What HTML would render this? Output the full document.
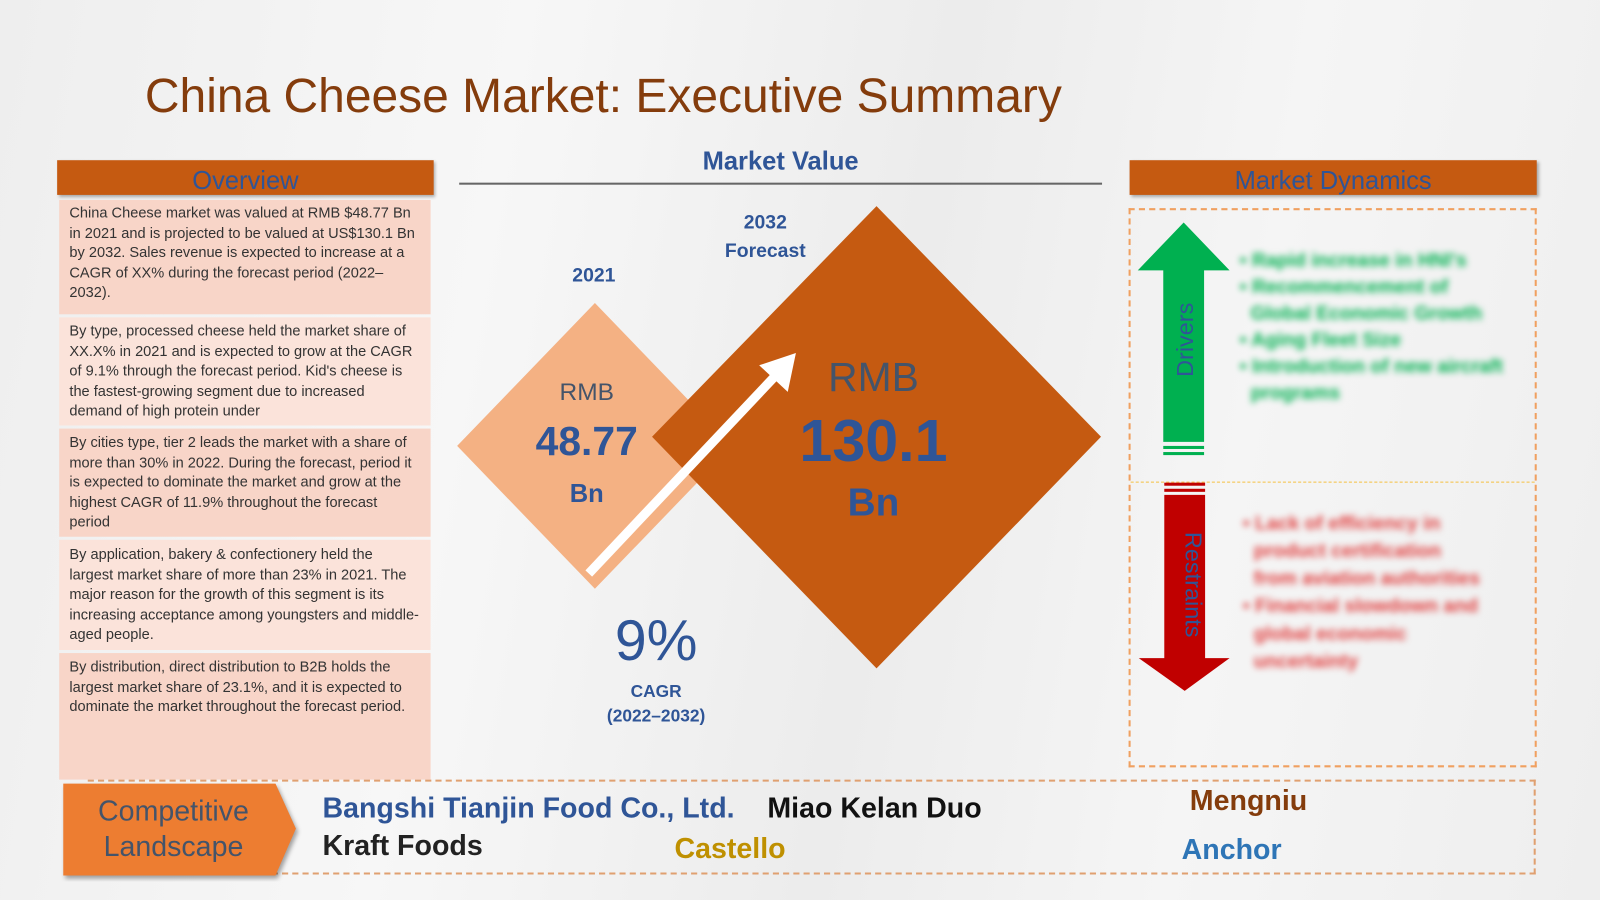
<!DOCTYPE html>
<html><head><meta charset="utf-8"><style>
html,body{margin:0;padding:0;width:1600px;height:900px;overflow:hidden;background:#f2f2f2}
#s{position:absolute;left:0;top:0;width:1568px;height:882px;transform:scale(1.020408);transform-origin:0 0;font-family:"Liberation Sans",sans-serif;
background:linear-gradient(100deg,#eeeeee 0%,#f7f7f7 30%,#ececec 55%,#f5f5f5 75%,#eeeeee 100%)}
.a{position:absolute}
.ov{position:absolute;left:58px;width:364px;background:#f8d5c8;color:#333;font-size:14.3px;line-height:19.6px;padding:0 10px;box-sizing:border-box}
.bar{background:#c55a11;color:#2f5597;font-size:25px;text-align:center;box-shadow:2px 2px 3px rgba(0,0,0,.3)}
.blur{filter:blur(3px);font-size:19px;font-weight:bold;line-height:26px}
.co{font-size:28px;font-weight:bold;white-space:nowrap}
</style></head><body>
<div id="s">
<div class="a" style="left:142px;top:66px;font-size:47px;color:#843c0c">China Cheese Market: Executive Summary</div>

<div class="a bar" style="left:56px;top:157px;width:369px;height:34px;line-height:40px">Overview</div>
<div class="ov" style="top:196px;height:112px;padding-top:4px">China Cheese market was valued at RMB $48.77 Bn in 2021 and is projected to be valued at US$130.1 Bn by 2032. Sales revenue is expected to increase at a CAGR of XX% during the forecast period (2022–2032).</div>
<div class="ov" style="top:311px;height:106px;padding-top:5px;background:#fbe3da">By type, processed cheese held the market share of XX.X% in 2021 and is expected to grow at the CAGR of 9.1% through the forecast period. Kid's cheese is the fastest-growing segment due to increased demand of high protein under</div>
<div class="ov" style="top:420px;height:106px;padding-top:5px">By cities type, tier 2 leads the market with a share of more than 30% in 2022. During the forecast, period it is expected to dominate the market and grow at the highest CAGR of 11.9% throughout the forecast period</div>
<div class="ov" style="top:529px;height:108px;padding-top:6px;background:#fbe3da">By application, bakery &amp; confectionery held the largest market share of more than 23% in 2021. The major reason for the growth of this segment is its increasing acceptance among youngsters and middle-aged people.</div>
<div class="ov" style="top:640px;height:124px;padding-top:5px">By distribution, direct distribution to B2B holds the largest market share of 23.1%, and it is expected to dominate the market throughout the forecast period.</div>

<div class="a" style="left:450px;top:144px;width:630px;text-align:center;font-size:25px;font-weight:bold;color:#2f5597">Market Value</div>
<div class="a" style="left:450px;top:179px;width:630px;height:2px;background:#666"></div>

<svg class="a" style="left:0;top:0" width="1568" height="882">
<polygon points="583,297 718,437 583,577 448,437" fill="#f4b183"/>
<polygon points="859,202 1079,428 859,655 639,428" fill="#c55a11"/>
<line x1="577" y1="562" x2="762" y2="366" stroke="#fff" stroke-width="9"/>
<polygon points="780,346 772,384 744,358" fill="#fff"/>
</svg>
<div class="a" style="left:540px;top:260px;width:84px;text-align:center;font-size:19px;font-weight:bold;color:#2f5597">2021</div>
<div class="a" style="left:690px;top:205px;width:120px;text-align:center;font-size:19px;font-weight:bold;color:#2f5597;line-height:28px">2032<br>Forecast</div>
<div class="a" style="left:505px;top:371px;width:140px;text-align:center;color:#2f5597">
<div style="font-size:24px;color:#44546a">RMB</div><div style="font-size:40px;font-weight:bold;margin-top:12px">48.77</div><div style="font-size:25px;font-weight:bold;margin-top:14px">Bn</div></div>
<div class="a" style="left:756px;top:348px;width:200px;text-align:center;color:#2f5597">
<div style="font-size:40px;color:#44546a">RMB</div><div style="font-size:58px;font-weight:bold;margin-top:6px">130.1</div><div style="font-size:38px;font-weight:bold;margin-top:6px">Bn</div></div>
<div class="a" style="left:570px;top:595px;width:146px;text-align:center;font-size:56px;color:#2f5597">9%</div>
<div class="a" style="left:570px;top:666px;width:146px;text-align:center;font-size:17px;font-weight:bold;color:#2f5597;line-height:24px">CAGR<br>(2022–2032)</div>

<div class="a bar" style="left:1107px;top:157px;width:399px;height:34px;line-height:40px">Market Dynamics</div>
<div class="a" style="left:1106px;top:204px;width:400px;height:548px;border:2px dashed #f0a060;box-sizing:border-box"></div>
<div class="a" style="left:1108px;top:472px;width:396px;border-top:1px dashed #f5c040"></div>
<svg class="a" style="left:1110px;top:215px" width="100" height="470">
<polygon points="50,3 95,50 70,50 70,218 30,218 30,50 5,50" fill="#00b050"/>
<rect x="30" y="222" width="40" height="3" fill="#00b050"/><rect x="30" y="228" width="40" height="3" fill="#00b050"/>
<rect x="31" y="258" width="40" height="3" fill="#c00000"/><rect x="31" y="264" width="40" height="3" fill="#c00000"/>
<polygon points="31,270 71,270 71,430 95,430 51,462 6,430 31,430" fill="#c00000"/>
<text x="0" y="0" transform="translate(59,118) rotate(-90)" text-anchor="middle" font-size="23" fill="#2f5597" font-family="Liberation Sans">Drivers</text>
<text x="0" y="0" transform="translate(52,358) rotate(90)" text-anchor="middle" font-size="23" fill="#2f5597" font-family="Liberation Sans">Restraints</text>
</svg>
<div class="a blur" style="left:1215px;top:243px;width:280px;color:#00b050">• Rapid increase in HNI's<br>• Recommencement of<br>&nbsp;&nbsp;Global Economic Growth<br>• Aging Fleet Size<br>• Introduction of new aircraft<br>&nbsp;&nbsp;programs</div>
<div class="a blur" style="left:1218px;top:500px;width:280px;color:#e04040;line-height:27px">• Lack of efficiency in<br>&nbsp;&nbsp;product certification<br>&nbsp;&nbsp;from aviation authorities<br>• Financial slowdown and<br>&nbsp;&nbsp;global economic<br>&nbsp;&nbsp;uncertainty</div>

<div class="a" style="left:86px;top:764px;width:1419px;height:93px;border:2px dashed #e0a070;border-left:none;box-sizing:border-box"></div>
<svg class="a" style="left:60px;top:764px" width="240" height="100">
<polygon points="2,4 210,4 230,48 210,94 2,94" fill="#ed7d31" style="filter:drop-shadow(2px 3px 2px rgba(0,0,0,.35))"/>
<text x="110" y="40" text-anchor="middle" font-size="28" fill="#44546a" font-family="Liberation Sans">Competitive</text>
<text x="110" y="75" text-anchor="middle" font-size="28" fill="#44546a" font-family="Liberation Sans">Landscape</text>
</svg>
<div class="a co" style="left:316px;top:776px;color:#2f5597">Bangshi Tianjin Food Co., Ltd.</div>
<div class="a co" style="left:752px;top:776px;color:#111">Miao Kelan Duo</div>
<div class="a co" style="left:1166px;top:769px;color:#843c0c">Mengniu</div>
<div class="a co" style="left:316px;top:813px;color:#222">Kraft Foods</div>
<div class="a co" style="left:661px;top:816px;color:#bf9000">Castello</div>
<div class="a co" style="left:1158px;top:817px;color:#2e75b6">Anchor</div>
</div>
</body></html>
